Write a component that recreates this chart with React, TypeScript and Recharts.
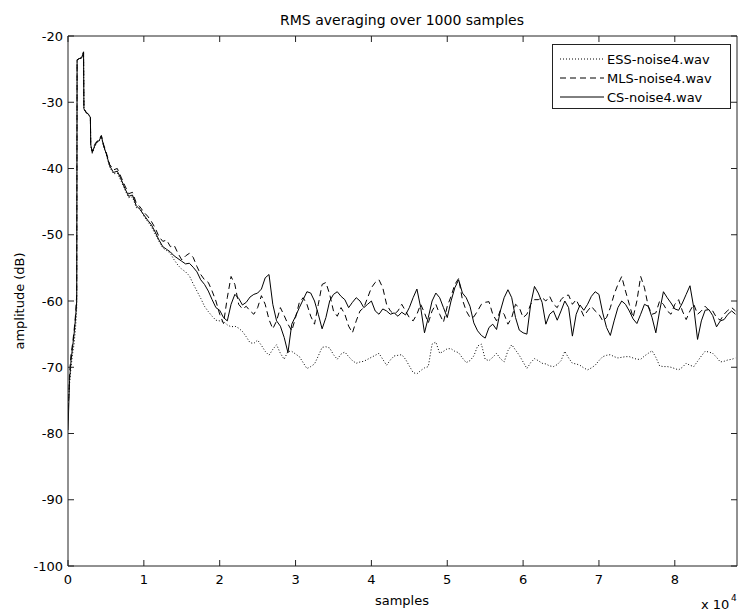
import React from 'react';
import { LineChart, Line, XAxis, YAxis, Customized } from 'recharts';

// sample index (x axis)
const samples = [
  0, 200, 400, 600, 800, 1000, 1150, 1200, 1500, 1800, 2000, 2050, 2100, 2400, 2700, 2950, 3000, 3200, 3500, 3800, 4100, 4400, 4700, 5000,
  5500, 6000, 6500, 7000, 7500, 8000, 8500, 9000, 9500, 10000, 10500, 11000, 11500, 12000, 12500, 13000,
  13500, 14000, 14500, 15000, 15500, 16000, 16500, 17000, 17500, 18000,
  18500, 19000, 19500, 20000, 20500, 21000, 21500, 22000, 22500, 23000,
  23500, 24000, 24500, 25000, 25500, 26000, 26500, 27000, 27500, 28000,
  28500, 29000, 29500, 30000, 30500, 31000, 31500, 32000, 32500, 33000,
  33500, 34000, 34500, 35000, 35500, 36000, 36500, 37000, 37500, 38000,
  38500, 39000, 39500, 40000, 40500, 41000, 41500, 42000, 42500, 43000,
  43500, 44000, 44500, 45000, 45500, 46000, 46500, 47000, 47500, 48000,
  48500, 49000, 49500, 50000, 50500, 51000, 51500, 52000, 52500, 53000,
  53500, 54000, 54500, 55000, 55500, 56000, 56500, 57000, 57500, 58000,
  58500, 59000, 59500, 60000, 60500, 61000, 61500, 62000, 62500, 63000,
  63500, 64000, 64500, 65000, 65500, 66000, 66500, 67000, 67500, 68000,
  68500, 69000, 69500, 70000, 70500, 71000, 71500, 72000, 72500, 73000,
  73500, 74000, 74500, 75000, 75500, 76000, 76500, 77000, 77500, 78000,
  78500, 79000, 79500, 80000, 80500, 81000, 81500, 82000, 82500, 83000,
  83500, 84000, 84500, 85000, 85500, 86000, 86500, 87000, 87500, 88000,
];

const essValues = [
  -76, -72.5, -70, -68, -66.5, -64, -61, -23.6, -23.4, -23.3, -22.6, -22.4, -31.0, -31.6, -31.9, -32.3, -36.6, -37.7, -36.8, -36.1, -35.9, -35.2, -36.8, -37.7,
  -39.8, -40.8, -40.7, -41.9, -43.2, -44.4, -44.3, -45.9, -46.0, -47.2, -48.0, -48.8, -49.9, -51.0, -52.0, -52.4,
  -52.8, -53.8, -54.6, -55.2, -55.6, -56.2, -57.4, -58.5, -59.6, -60.8,
  -61.6, -62.3, -62.9, -63.0, -63.1, -63.6, -63.9, -63.8, -64.1, -64.6,
  -65.4, -66.3, -66.4, -65.9, -66.7, -67.6, -68.2, -67.3, -66.6, -67.9,
  -68.8, -67.6, -67.6, -68.0, -68.4, -69.3, -70.2, -69.9, -69.5, -68.3,
  -67.0, -66.9, -67.1, -68.1, -68.8, -68.0, -67.7, -68.4, -69.0, -69.4,
  -69.2, -69.1, -68.8, -68.5, -68.2, -67.9, -68.8, -69.7, -68.9, -68.3,
  -68.2, -68.1, -68.8, -69.8, -70.8, -71.0, -70.5, -70.1, -69.9, -66.5,
  -66.2, -67.9, -67.6, -67.2, -67.2, -67.6, -67.8, -68.6, -69.3, -69.0,
  -68.3, -66.8, -66.5, -68.8, -69.0, -68.5, -67.9, -68.7, -69.2, -67.5,
  -66.6, -67.4, -68.2, -69.2, -70.2, -69.3, -68.7, -69.0, -69.4, -69.5,
  -69.8, -69.9, -69.6, -69.0, -67.6, -68.6, -69.4, -69.5, -69.7, -70.1,
  -70.4, -70.1, -69.7, -69.0, -68.4, -68.2, -68.1, -68.4, -68.6, -68.5,
  -68.4, -68.4, -68.6, -68.8, -68.8, -68.3, -67.9, -67.5, -68.5, -69.8,
  -69.9, -69.9, -70.0, -70.2, -70.4, -70.0, -69.4, -69.7, -69.9, -69.1,
  -68.3, -67.6, -67.7, -67.9, -68.5, -69.2, -69.1, -68.9, -68.8, -68.6,
];

const mlsValues = [
  -78, -71, -68, -66.5, -64.5, -62, -59, -23.6, -23.4, -23.3, -22.6, -22.4, -31.0, -31.5, -31.8, -32.2, -36.5, -37.4, -36.4, -35.9, -35.6, -35.0, -36.4, -37.4,
  -39.4, -40.2, -40.0, -41.3, -42.6, -43.8, -43.6, -45.2, -45.8, -46.6, -47.2, -48.0, -49.0, -50.3, -51.0, -50.8,
  -51.8, -51.6, -52.8, -53.8, -53.2, -52.8, -53.4, -54.8, -56.0, -56.8,
  -57.2, -58.5, -60.0, -62.0, -63.4, -59.5, -56.3, -57.5, -60.5, -61.2,
  -60.8, -61.5, -62.0, -61.0, -59.2, -60.5, -62.8, -64.2, -63.0, -61.0,
  -62.2, -63.5, -64.5, -62.5, -60.2, -59.5, -60.5, -62.3, -63.5, -60.5,
  -57.5, -57.2, -59.0, -61.5, -62.3, -61.0, -62.0, -63.8, -64.8, -63.0,
  -61.5, -61.0, -59.5, -58.0, -57.2, -56.8, -58.0, -60.5, -61.5, -62.0,
  -61.5, -60.5, -61.5, -62.5, -63.0, -62.0, -60.5, -61.8, -63.3, -61.5,
  -60.5, -62.0, -63.2, -60.8, -59.3, -57.5, -56.6, -59.8, -61.5, -62.5,
  -62.4, -61.5, -60.5, -60.2, -60.1, -62.0, -63.0, -61.4, -62.0, -63.5,
  -62.5, -60.5, -61.0, -62.5, -62.0, -60.5, -59.8, -59.8, -59.5, -60.0,
  -59.3, -60.5, -61.0, -59.8, -59.2, -59.1, -60.5, -59.8, -61.0, -62.3,
  -61.5, -60.8, -61.5, -62.0, -63.0, -62.5, -61.0, -59.0, -57.5, -56.3,
  -58.5, -60.5, -62.5, -60.0, -56.3, -58.0, -60.8, -62.0, -61.8, -60.0,
  -60.5, -61.5, -62.0, -60.5, -59.8, -61.5, -62.8, -61.5, -60.5, -62.0,
  -61.5, -60.8, -61.4, -61.5, -62.5, -62.9, -62.0, -61.4, -61.0, -61.5,
];

const csValues = [
  -79.5, -72, -69, -67, -65, -62.5, -60, -23.6, -23.4, -23.3, -22.6, -22.4, -31.0, -31.6, -31.8, -32.3, -36.4, -37.6, -36.6, -36.0, -35.8, -35.1, -36.6, -37.6,
  -39.6, -40.6, -40.4, -41.6, -43.0, -44.2, -44.0, -45.6, -46.2, -47.0, -47.8, -48.5, -49.6, -50.8, -51.8, -52.2,
  -52.6, -53.2, -53.6, -54.0, -54.4, -54.3, -54.9, -55.6, -56.8, -57.5,
  -58.5, -59.8, -61.0, -61.4, -62.5, -63.0, -60.5, -59.0, -59.6, -60.6,
  -60.2, -59.4, -59.0, -58.8, -58.2, -56.5, -56.0, -60.5, -63.0, -63.8,
  -65.5, -67.8, -63.5, -62.3, -61.0, -59.8, -58.6, -58.8, -60.0, -62.0,
  -64.2, -62.5, -60.0, -59.0, -58.6, -59.3, -59.8, -61.0, -60.2, -59.5,
  -60.0, -61.0, -60.5, -60.0, -61.5, -62.0, -61.2, -61.5, -62.0, -61.8,
  -62.3, -61.7, -62.1, -61.0, -59.5, -58.2, -61.0, -64.8, -62.5, -60.0,
  -58.8, -59.5, -61.0, -62.5, -60.0, -58.0, -56.8, -58.8, -59.5, -60.8,
  -63.3, -64.5, -65.2, -65.6, -64.0, -63.5, -64.3, -61.5, -59.5, -58.3,
  -59.5, -62.5, -64.4, -64.8, -65.0, -60.5, -57.8, -58.8, -60.2, -63.5,
  -62.0, -61.5, -62.9, -61.5, -60.0, -61.0, -65.3, -62.0, -60.6, -61.4,
  -60.5, -59.3, -58.6, -59.0, -61.8, -64.0, -65.2, -63.0, -61.0, -60.0,
  -60.5, -61.5, -62.7, -63.4, -62.0, -60.5, -60.8, -62.5, -64.8, -61.5,
  -58.6, -59.5, -60.3, -61.2, -61.4, -60.3, -59.0, -57.7, -61.0, -65.8,
  -63.0, -61.4, -61.3, -62.2, -63.9, -63.0, -62.8, -62.0, -61.5, -62.0,
];

const seriesNames = ['ESS-noise4.wav', 'MLS-noise4.wav', 'CS-noise4.wav'];
const xTicks = [0, 10000, 20000, 30000, 40000, 50000, 60000, 70000, 80000];
const yTicks = [-100, -90, -80, -70, -60, -50, -40, -30, -20];
const xMax = 88200;

const data = samples.map((s, i) => ({ s, ess: essValues[i], mls: mlsValues[i], cs: csValues[i] }));

const FONT = '"DejaVu Sans", sans-serif';
const AXIS = '#222';
const TICK = 6;

const BottomTick = (p: any) => (
  <g>
    <line x1={p.x} x2={p.x} y1={p.y} y2={p.y - TICK} stroke={AXIS} strokeWidth={1} />
    <text x={p.x} y={p.y + 18} textAnchor="middle" fontFamily={FONT} fontSize={13} fill="#000">
      {String(p.payload.value / 10000)}
    </text>
  </g>
);
const TopTick = (p: any) => (
  <line x1={p.x} x2={p.x} y1={p.y} y2={p.y + TICK} stroke={AXIS} strokeWidth={1} />
);
const LeftTick = (p: any) => (
  <g>
    <line x1={p.x} x2={p.x + TICK} y1={p.y} y2={p.y} stroke={AXIS} strokeWidth={1} />
    <text x={p.x - 5} y={p.y + 4.5} textAnchor="end" fontFamily={FONT} fontSize={13} fill="#000">
      {String(p.payload.value)}
    </text>
  </g>
);
const RightTick = (p: any) => (
  <line x1={p.x} x2={p.x - TICK} y1={p.y} y2={p.y} stroke={AXIS} strokeWidth={1} />
);

const dashes = ['1 2', '6 4', undefined];

const Extras = () => (
  <g>
    <text x={402} y={25} textAnchor="middle" fontFamily={FONT} fontSize={14} fill="#000">
      RMS averaging over 1000 samples
    </text>
    <text x={402} y={605} textAnchor="middle" fontFamily={FONT} fontSize={13} fill="#000">
      samples
    </text>
    <text x={19} y={301} textAnchor="middle" dominantBaseline="central" transform="rotate(-90 19 301)" fontFamily={FONT} fontSize={13} fill="#000">
      amplitude (dB)
    </text>
    <text x={701} y={609} fontFamily={FONT} fontSize={13} fill="#000">x 10</text>
    <text x={731} y={601} fontFamily={FONT} fontSize={9} fill="#000">4</text>
    <rect x={552.5} y={44.5} width={178} height={64} fill="#fff" stroke={AXIS} strokeWidth={1} />
    {seriesNames.map((n, i) => (
      <g key={n}>
        <line x1={560} x2={604} y1={59 + i * 19} y2={59 + i * 19} stroke="#000" strokeWidth={1} strokeDasharray={dashes[i]} />
        <text x={607} y={63.5 + i * 19} fontFamily={FONT} fontSize={13} fill="#000">{n}</text>
      </g>
    ))}
  </g>
);

export default function App() {
  return (
    <div style={{ position: 'absolute', left: 0, top: 0, width: 738, height: 614, background: '#fff' }}>
      <LineChart width={738} height={614} data={data} margin={{ top: 0, right: 0, bottom: 0, left: 0 }}>
        <XAxis xAxisId="b" dataKey="s" type="number" domain={[0, xMax]} ticks={xTicks} orientation="bottom" height={48}
          tickSize={0} tickMargin={0} tickLine={false} axisLine={{ stroke: AXIS }} tick={<BottomTick />} allowDataOverflow interval={0} />
        <XAxis xAxisId="t" dataKey="s" type="number" domain={[0, xMax]} ticks={xTicks} orientation="top" height={36}
          tickSize={0} tickMargin={0} tickLine={false} axisLine={{ stroke: AXIS }} tick={<TopTick />} allowDataOverflow interval={0} />
        <YAxis yAxisId="l" type="number" domain={[-100, -20]} ticks={yTicks} orientation="left" width={68}
          tickSize={0} tickMargin={0} tickLine={false} axisLine={{ stroke: AXIS }} tick={<LeftTick />} allowDataOverflow interval={0} />
        <YAxis yAxisId="r" type="number" domain={[-100, -20]} ticks={yTicks} orientation="right" width={1}
          tickSize={0} tickMargin={0} tickLine={false} axisLine={{ stroke: AXIS }} tick={<RightTick />} allowDataOverflow interval={0} />
        <Line xAxisId="b" yAxisId="l" dataKey="ess" name={seriesNames[0]} type="linear" dot={false} stroke="#000" strokeWidth={1} strokeDasharray="1 2" isAnimationActive={false} />
        <Line xAxisId="b" yAxisId="l" dataKey="mls" name={seriesNames[1]} type="linear" dot={false} stroke="#000" strokeWidth={1} strokeDasharray="6 4" isAnimationActive={false} />
        <Line xAxisId="b" yAxisId="l" dataKey="cs" name={seriesNames[2]} type="linear" dot={false} stroke="#000" strokeWidth={1} isAnimationActive={false} />
        <Customized component={<Extras />} />
      </LineChart>
    </div>
  );
}
